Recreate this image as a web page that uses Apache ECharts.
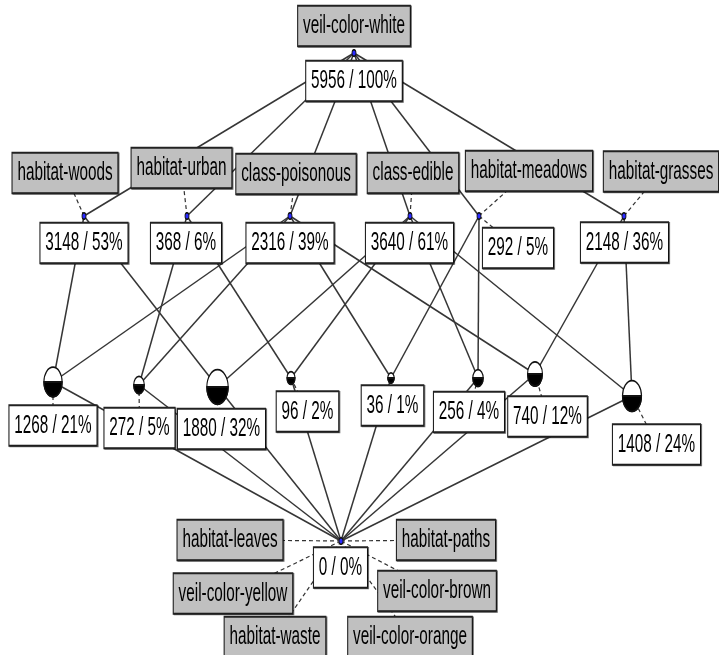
<!DOCTYPE html>
<html>
<head>
<meta charset="utf-8">
<script src="https://cdn.jsdelivr.net/npm/echarts@6/dist/echarts.min.js"></script>
<style>
html,body{margin:0;padding:0;background:#fff;}
#chart{width:719px;height:655px;}
</style>
</head>
<body>
<div id="chart"></div>
<script>
// ---- Concept lattice data ----
const conceptIds = ['top','woods','urban','poisonous','edible','meadows','grasses',
  'woodsPoisonous','urbanPoisonous','woodsEdible','urbanEdible',
  'meadowsPoisonous','meadowsEdible','grassesPoisonous','grassesEdible','bottom'];
const conceptCounts   = [5956,3148,368,2316,3640,292,2148,1268,272,1880,96,36,256,740,1408,0];
const conceptPercents = [100,53,6,39,61,5,36,21,5,32,2,1,4,12,24,0];

// lattice edges (upper concept, lower concept)
const latticeEdges = [
  ['top','woods'],['top','urban'],['top','poisonous'],['top','edible'],['top','meadows'],['top','grasses'],
  ['woods','woodsPoisonous'],['woods','woodsEdible'],
  ['urban','urbanPoisonous'],['urban','urbanEdible'],
  ['poisonous','woodsPoisonous'],['poisonous','urbanPoisonous'],['poisonous','meadowsPoisonous'],['poisonous','grassesPoisonous'],
  ['edible','woodsEdible'],['edible','urbanEdible'],['edible','meadowsEdible'],['edible','grassesEdible'],
  ['meadows','meadowsPoisonous'],['meadows','meadowsEdible'],
  ['grasses','grassesPoisonous'],['grasses','grassesEdible'],
  ['woodsPoisonous','bottom'],['urbanPoisonous','bottom'],['woodsEdible','bottom'],['urbanEdible','bottom'],
  ['meadowsPoisonous','bottom'],['meadowsEdible','bottom'],['grassesPoisonous','bottom'],['grassesEdible','bottom']
];

// attribute labels and the concept they introduce
const attributeNames = ['veil-color-white','habitat-woods','habitat-urban','class-poisonous','class-edible',
  'habitat-meadows','habitat-grasses','habitat-leaves','habitat-paths','veil-color-yellow',
  'veil-color-brown','habitat-waste','veil-color-orange'];
const attributeConcepts = ['top','woods','urban','poisonous','edible','meadows','grasses',
  'bottom','bottom','bottom','bottom','bottom','bottom'];

// ---- Diagram layout (positions in diagram space) ----
const nodeLayoutX = [354,84,187,290,410,479,624,53,139,217.5,291,391,478,535,632,341];
const nodeLayoutY = [53,216,216,216,216,216,216,382,385,387,378,378,378,374,396,541];
const countLabelX = [354,84,186,290,409.5,518,624.5,53,139.5,221.5,307.5,392.5,469,547.5,656.5,340.5];
const countLabelY = [81,243,243,243,243,248,242.5,425.5,428,429,411.5,405.5,412,416.5,444.5,567.5];
const attrLabelX  = [354,65,181.5,296,413,529,661,230,446,233,437,275,410];
const attrLabelY  = [26,173,168,174,173,171,171.5,540,540,593.5,591,637,637];

// ---- derived ----
const idx = id => conceptIds.indexOf(id);
const childSum = conceptIds.map((id) =>
  latticeEdges.filter(e => e[0] === id).reduce((s, e) => s + conceptCounts[idx(e[1])], 0));
const ownObjects = conceptCounts.map((c, i) => Math.max(0, c - childSum[i]));

const K = 1.62;      // vertical stretch of the picture (marks)
const KT = 1.72;     // vertical stretch of the texts
const FONT = '15.3px "Liberation Sans", Arial, sans-serif';

const solidData = latticeEdges.map(e => {
  const a = idx(e[0]), b = idx(e[1]);
  return [nodeLayoutX[a], nodeLayoutY[a], nodeLayoutX[b], nodeLayoutY[b]];
});
const dashedData = [];
conceptIds.forEach((id, i) => {
  dashedData.push([nodeLayoutX[i], nodeLayoutY[i], countLabelX[i], countLabelY[i]]);
});
attributeNames.forEach((n, j) => {
  const c = idx(attributeConcepts[j]);
  dashedData.push([nodeLayoutX[c], nodeLayoutY[c], attrLabelX[j], attrLabelY[j]]);
});

function lineRender(dash) {
  return function (params, api) {
    const p1 = api.coord([api.value(0), api.value(1)]);
    const p2 = api.coord([api.value(2), api.value(3)]);
    return {
      type: 'line',
      shape: { x1: p1[0], y1: p1[1], x2: p2[0], y2: p2[1] },
      style: dash
        ? { stroke: '#333', lineWidth: 1.2, lineDash: [4, 3] }
        : { stroke: '#363636', lineWidth: 1.5 }
    };
  };
}

function labelRender(texts, bg) {
  return function (params, api) {
    const p = api.coord([api.value(0), api.value(1)]);
    return {
      type: 'text',
      x: p[0], y: p[1], scaleY: KT,
      style: {
        text: texts[params.dataIndex], x: 0, y: 0,
        align: 'center', verticalAlign: 'middle',
        font: FONT, fill: '#000', lineHeight: 15.2,
        backgroundColor: bg, borderColor: '#222', borderWidth: 1.1,
        padding: [3.6, 4.8],
        shadowColor: 'rgba(0,0,0,0.55)', shadowOffsetX: 1, shadowOffsetY: 0.6, shadowBlur: 0
      }
    };
  };
}

const countTexts = conceptCounts.map((c, i) => c + ' / ' + conceptPercents[i] + '%');

const chart = echarts.init(document.getElementById('chart'), null, { renderer: 'canvas' });
chart.setOption({
  animation: false,
  backgroundColor: '#fff',
  grid: { left: 0, right: 0, top: 0, bottom: 0 },
  xAxis: { type: 'value', min: 0, max: 719, show: false },
  yAxis: { type: 'value', min: 0, max: 655, inverse: true, show: false },
  series: [
    { type: 'custom', z: 1, data: dashedData, renderItem: lineRender(true), encode: { x: [0, 2], y: [1, 3] }, silent: true, clip: false },
    { type: 'custom', z: 2, data: solidData, renderItem: lineRender(false), encode: { x: [0, 2], y: [1, 3] }, silent: true, clip: false },
    {
      type: 'custom', z: 3, silent: true, clip: false,
      data: conceptIds.map((id, i) => [nodeLayoutX[i], nodeLayoutY[i]]),
      encode: { x: 0, y: 1 },
      renderItem: function (params, api) {
        const p = api.coord([api.value(0), api.value(1)]);
        const own = ownObjects[params.dataIndex];
        if (own <= 0) {
          return {
            type: 'group', x: p[0], y: p[1], scaleY: K,
            children: [{ type: 'circle', shape: { cx: 0, cy: 0, r: 2 },
              style: { fill: '#2a2aff', stroke: '#111', lineWidth: 0.8 } }]
          };
        }
        const r = 2 + 0.2 * Math.sqrt(own);
        return {
          type: 'group', x: p[0], y: p[1], scaleY: K,
          children: [
            { type: 'circle', shape: { cx: 0, cy: 0, r: r }, style: { fill: '#fff', stroke: '#111', lineWidth: 1.1 } },
            { type: 'sector', shape: { cx: 0, cy: 0, r0: 0, r: r, startAngle: 0, endAngle: Math.PI, clockwise: true },
              style: { fill: '#000', stroke: '#111', lineWidth: 1.1 } }
          ]
        };
      }
    },
    {
      type: 'custom', z: 4, silent: true, clip: false,
      data: conceptIds.map((id, i) => [countLabelX[i], countLabelY[i]]),
      encode: { x: 0, y: 1 },
      renderItem: labelRender(countTexts, '#fff')
    },
    {
      type: 'custom', z: 5, silent: true, clip: false,
      data: attributeNames.map((n, j) => [attrLabelX[j], attrLabelY[j]]),
      encode: { x: 0, y: 1 },
      renderItem: labelRender(attributeNames, '#c0c0c0')
    }
  ]
});
</script>
</body>
</html>
